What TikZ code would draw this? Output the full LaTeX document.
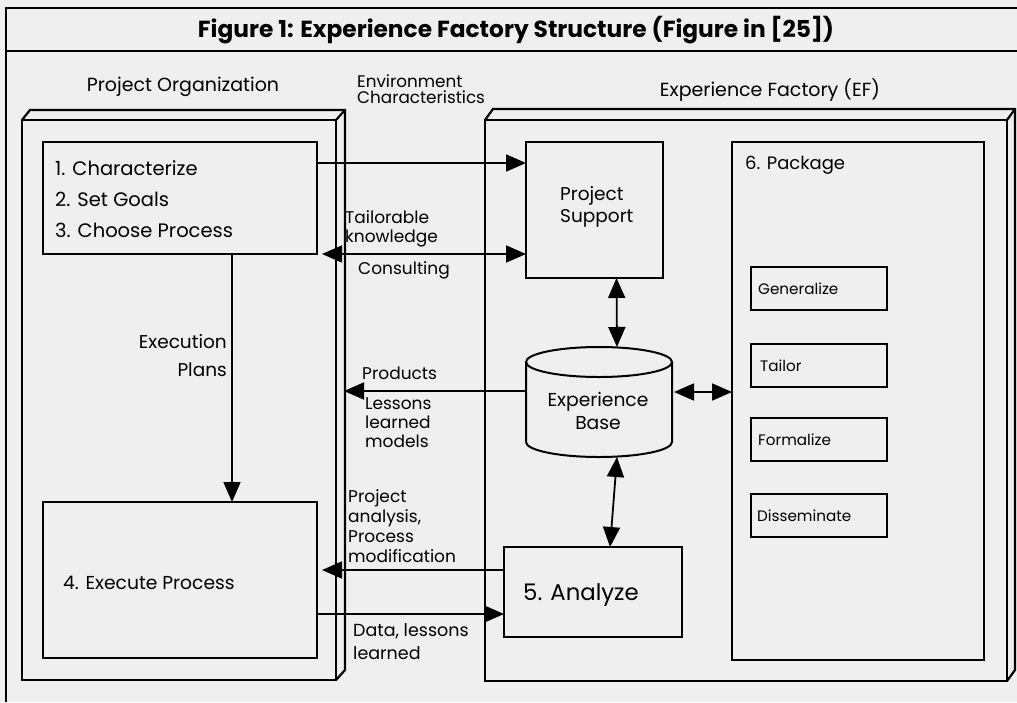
\documentclass[tikz,border=0pt]{standalone}
\usepackage{fontspec}
\setmainfont{Poppins}
\usetikzlibrary{arrows.meta,calc}
\definecolor{bgc}{HTML}{EFEFEF}
\begin{document}
\begin{tikzpicture}[x=1pt,y=-1pt,
  frame/.style={draw, line width=2.2pt, line join=miter},
  box/.style={draw, line width=2pt, inner sep=0pt, outer sep=0pt, anchor=north west},
  ghost/.style={inner sep=0pt, outer sep=0pt, anchor=north west},
  arr/.style={line width=1.8pt, -{Triangle[length=20pt,width=17pt]}},
  darr/.style={line width=1.8pt, {Triangle[length=20pt,width=17pt]}-{Triangle[length=20pt,width=17pt]}},
  lbl/.style={inner sep=0pt, anchor=west, align=left, font=\fontsize{17}{19}\selectfont},
  main/.style={inner sep=0pt, font=\fontsize{19}{22}\selectfont},
  item/.style={inner sep=0pt, anchor=west, font=\fontsize{15.2}{17}\selectfont},
]
\useasboundingbox (0,0) rectangle (1017,702);
\fill[bgc] (0,0) rectangle (1017,702);
% outer frame and title bar
\draw[line width=1.6pt] (6,702) -- (6,8) -- (1017,8);
\draw[line width=1.6pt] (6,51) -- (1017,51);
\node[inner sep=0pt, font=\fontsize{23.3}{25}\selectfont\bfseries] (ttl) at (516,30) {Figure 1: Experience Factory Structure (Figure in [25])};

% 3D frame: Project Organization
\node[box, line width=2.2pt, minimum width=314pt, minimum height=560pt] (po) at (22,120) {};
\draw[frame] (po.north west) -- ++(8,-10) -- ($(po.north east)+(9,-10)$) -- ($(po.south east)+(9,-10)$) -- (po.south east);
\draw[frame] (po.north east) -- ++(9,-10);
% 3D frame: Experience Factory
\node[box, line width=2.2pt, minimum width=522pt, minimum height=561pt] (ef) at (485,120) {};
\draw[frame] (ef.north west) -- ++(8,-11) -- ($(ef.north east)+(8,-11)$) -- ($(ef.south east)+(8,-11)$) -- (ef.south east);
\draw[frame] (ef.north east) -- ++(8,-11);

% boxes
\node[box, minimum width=274pt, minimum height=112pt] (c13) at (43,142) {};
\node[box, minimum width=274pt, minimum height=156pt] (c4) at (43,502) {};
\node[box, minimum width=137pt, minimum height=136pt] (ps) at (526,142) {};
\node[box, minimum width=178pt, minimum height=90pt] (an) at (504,547) {};
\node[box, minimum width=252pt, minimum height=518pt] (pk) at (732,142) {};
\node[box, minimum width=136pt, minimum height=43pt] (g1) at (751,267) {};
\node[box, minimum width=136pt, minimum height=43pt] (g2) at (751,344) {};
\node[box, minimum width=136pt, minimum height=43pt] (g3) at (751,418) {};
\node[box, minimum width=136pt, minimum height=43pt] (g4) at (751,494) {};

% experience base cylinder
\node[ghost, minimum width=146pt, minimum height=110pt] (eb) at (526,347) {};
\draw[frame, line width=2pt] ($(eb.north west)+(0,15)$) -- ($(eb.south west)+(0,-15)$)
  arc[start angle=180, end angle=360, x radius=73pt, y radius=15pt] -- ($(eb.north east)+(0,15)$);
\draw[frame, line width=2pt] ($(eb.north)+(0,15)$) ellipse [x radius=73pt, y radius=15pt];

% connectors
\coordinate (a1) at ($(c13.north east)+(0,21)$);
\draw[arr] (a1) -- (ps.west |- a1);
\coordinate (cs) at ($(c13.south east)+(5,0)$);
\draw[darr] (cs) -- (ps.west |- cs);
\coordinate (ex) at ($(c13.south west)+(189,0)$);
\draw[arr] (ex) -- (c4.north -| ex);
\coordinate (pe) at ($(po.north east)+(8,271)$);
\draw[arr] (eb.west |- pe) -- (pe);
\draw[darr] ($(ps.south)+(22,0)$) -- ($(eb.north)+(18,0)$);
\draw[darr] ($(eb.south)+(18,0)$) -- ($(an.north)+(17,0)$);
\coordinate (ek) at ($(eb.east)+(2,-10)$);
\draw[darr] (ek) -- (pk.west |- ek);
\coordinate (pas) at ($(an.north west)+(0,23)$);
\draw[arr] (pas) -- ($(c4.east |- pas)+(5,0)$);
\coordinate (dls) at ($(c4.north east)+(0,112)$);
\draw[arr] (dls) -- (an.west |- dls);

% texts
\node[main] (tpo) at (183,87) {Project Organization};
\node[main] (tef) at (770,90) {Experience Factory (EF)};
\node[lbl, font=\fontsize{16.8}{16}\selectfont] (tenv) at (357,89.5) {Environment\\Characteristics};
\node[main, anchor=west, align=left, font=\fontsize{19.5}{31}\selectfont] (t13) at (55,199) {1. Characterize\\2. Set Goals\\3. Choose Process};
\node[lbl] (ttk) at (345,228.5) {Tailorable\\knowledge};
\node[lbl] (tcons) at (358,270) {Consulting};
\node[main, anchor=east, align=right, font=\fontsize{18.5}{28}\selectfont] (tep) at (227,356) {Execution\\Plans};
\node[lbl] (tprod) at (362,373) {Products};
\node[lbl, font=\fontsize{17}{19}\selectfont] (tllm) at (365,423) {Lessons\\learned\\models};
\node[lbl, font=\fontsize{17}{20}\selectfont] (tpa) at (348,526.5) {Project\\analysis,\\Process\\modification};
\node[lbl, font=\fontsize{17.5}{23}\selectfont] (tdl) at (353,641.5) {Data, lessons\\learned};
\node[main, anchor=west, font=\fontsize{18.7}{22}\selectfont] (t4) at (63,583) {4. Execute Process};
\node[main, anchor=west, align=left, font=\fontsize{18.5}{22}\selectfont] (tps) at (560,207) {Project\\Support};
\node[main, anchor=west, font=\fontsize{18}{22}\selectfont] (tpk) at (745,165) {6. Package};
\node[main, align=center, font=\fontsize{18.7}{23}\selectfont] (teb) at (598,411) {Experience\\Base};
\node[main, anchor=west, font=\fontsize{22.8}{25}\selectfont] (t5) at (523,595) {5. Analyze};
\node[item] (tg1) at ($(g1.west)+(7,0)$) {Generalize};
\node[item] (tg2) at ($(g2.west)+(9,0)$) {Tailor};
\node[item] (tg3) at ($(g3.west)+(7,0)$) {Formalize};
\node[item] (tg4) at ($(g4.west)+(6,0)$) {Disseminate};
\end{tikzpicture}
\end{document}
